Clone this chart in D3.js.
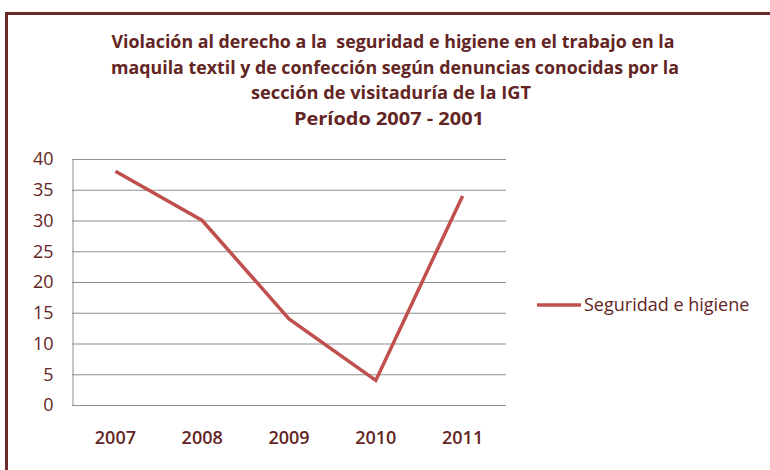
<!DOCTYPE html>
<html>
<head>
<meta charset="utf-8">
<script src="https://cdn.jsdelivr.net/npm/d3@7"></script>
<style>
  body{margin:0;background:#fff}
  text{font-family:"Open Sans","Noto Sans",sans-serif}
</style>
</head>
<body>
<svg id="chart" width="770" height="470"></svg>
<script>
const years=["2007","2008","2009","2010","2011"]
const values=[38,30,14,4,34]
const yTicks=[0,5,10,15,20,25,30,35,40]
const titleLines=["Violación al derecho a la  seguridad e higiene en el trabajo en la","maquila textil y de confección según denuncias conocidas por la","sección de visitaduría de la IGT","Período 2007 - 2001"]
const seriesName="Seguridad e higiene"

const textColor="#632523"
const lineColor="#C0504D"

const svg=d3.select("#chart")

// marco
svg.append("path")
  .attr("d","M6.5,470 V13.5 H770")
  .attr("fill","none")
  .attr("stroke","#6b2b2b")
  .attr("stroke-width",3)

// titulo
const titleW=[563,568,280,190]
const titleX=[393,395,391,389]
const title=svg.append("g")
titleLines.forEach((t,i)=>{
  title.append("text")
    .attr("x",titleX[i])
    .attr("y",48+i*25.5)
    .attr("text-anchor","middle")
    .attr("fill",textColor)
    .style("font-weight","bold")
    .style("font-size","17px")
    .style("white-space","pre")
    .attr("textLength",titleW[i])
    .attr("lengthAdjust","spacingAndGlyphs")
    .text(t)
})

const x=d3.scaleBand().domain(years).range([72,506])
const y=d3.scaleLinear().domain([0,40]).range([405,159])

// rejilla
svg.append("g")
  .selectAll("line")
  .data(yTicks.slice(1))
  .enter()
  .append("line")
  .attr("x1",72).attr("x2",506)
  .attr("y1",d=>y(d)+0.5).attr("y2",d=>y(d)+0.5)
  .attr("stroke","#8e8e8e")

const yaxis=d3.axisLeft(y).tickValues(yTicks).tickSize(0).tickPadding(19)
svg.append("g")
  .attr("transform","translate(72.5,0)")
  .call(yaxis)
  .call(g=>g.select(".domain").attr("stroke","#8e8e8e"))
  .call(g=>g.selectAll("text").attr("fill",textColor).style("font-size","18px").style("font-family","'Open Sans',sans-serif"))

const xaxis=d3.axisBottom(x).tickSize(0).tickPadding(26)
svg.append("g")
  .attr("transform","translate(0,405.5)")
  .call(xaxis)
  .call(g=>g.select(".domain").attr("stroke","#8e8e8e").attr("d","M72,0H506"))
  .call(g=>g.selectAll("text").attr("fill",textColor).style("font-size","18px").style("font-weight","600").style("font-family","'Open Sans',sans-serif"))

const line=d3.line()
  .x((d,i)=>x(years[i])+x.bandwidth()/2)
  .y(d=>y(d))
svg.append("path")
  .datum(values)
  .attr("d",line)
  .attr("fill","none")
  .attr("stroke",lineColor)
  .attr("stroke-width",3.5)

// leyenda
svg.append("line")
  .attr("x1",537).attr("x2",581)
  .attr("y1",305).attr("y2",305)
  .attr("stroke",lineColor)
  .attr("stroke-width",3.5)
svg.append("text")
  .attr("x",584)
  .attr("y",311)
  .attr("fill",textColor)
  .style("font-size","18px")
  .text(seriesName)
</script>
</body>
</html>
